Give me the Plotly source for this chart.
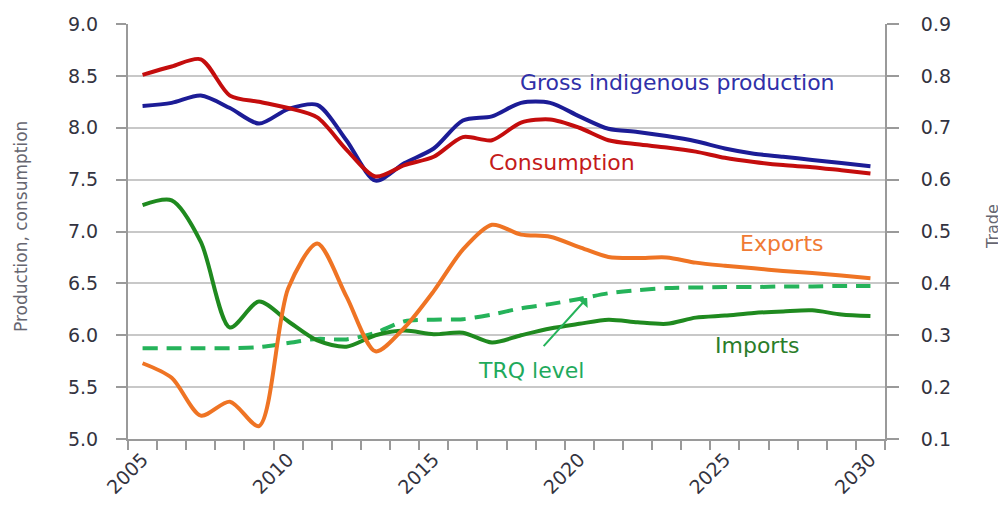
import plotly.graph_objects as go

years = list(range(2005, 2031))

production = [8.21, 8.24, 8.31, 8.19, 8.04, 8.18, 8.22, 7.88, 7.49, 7.66, 7.80, 8.07, 8.11,
              8.24, 8.24, 8.11, 7.99, 7.96, 7.92, 7.87, 7.80, 7.75, 7.72, 7.69, 7.66, 7.63]
consumption = [8.51, 8.59, 8.66, 8.31, 8.25, 8.19, 8.10, 7.79, 7.53, 7.64, 7.72, 7.91, 7.88,
               8.05, 8.08, 8.00, 7.88, 7.84, 7.81, 7.77, 7.71, 7.67, 7.64, 7.62, 7.59, 7.56]
exports = [0.246, 0.218, 0.145, 0.172, 0.125, 0.390, 0.477, 0.375, 0.269, 0.315, 0.385, 0.465, 0.513,
           0.494, 0.490, 0.470, 0.451, 0.449, 0.450, 0.440, 0.434, 0.429, 0.424, 0.420, 0.415, 0.410]
imports = [0.551, 0.560, 0.480, 0.315, 0.365, 0.327, 0.290, 0.278, 0.300, 0.309, 0.302, 0.305, 0.286,
           0.300, 0.313, 0.322, 0.330, 0.325, 0.322, 0.334, 0.338, 0.343, 0.346, 0.348, 0.340, 0.337]
trq = [0.275, 0.275, 0.275, 0.275, 0.277, 0.285, 0.293, 0.292, 0.305, 0.327, 0.330, 0.331, 0.340,
       0.352, 0.360, 0.370, 0.381, 0.387, 0.391, 0.392, 0.393, 0.393, 0.394, 0.394, 0.395, 0.395]

label_years = [2005, 2010, 2015, 2020, 2025, 2030]

C_BLUE = "#1c1c96"
C_RED = "#c40d0d"
C_ORANGE = "#ef7424"
C_GREEN = "#1f8a1f"
C_TRQ = "#25b35a"
GRID = "#c8c8c8"
AXIS = "#9a9a9a"
FONT = "DejaVu Sans"

fig = go.Figure()
fig.add_trace(go.Scatter(x=years, y=production, mode="lines", line=dict(color=C_BLUE, width=4, shape="spline", smoothing=0.8), yaxis="y"))
fig.add_trace(go.Scatter(x=years, y=consumption, mode="lines", line=dict(color=C_RED, width=4, shape="spline", smoothing=0.8), yaxis="y"))
fig.add_trace(go.Scatter(x=years, y=trq, mode="lines", line=dict(color=C_TRQ, width=4, shape="spline", smoothing=0.8, dash="15px,9px"), yaxis="y2"))
fig.add_trace(go.Scatter(x=years, y=imports, mode="lines", line=dict(color=C_GREEN, width=4, shape="spline", smoothing=0.8), yaxis="y2"))
fig.add_trace(go.Scatter(x=years, y=exports, mode="lines", line=dict(color=C_ORANGE, width=4, shape="spline", smoothing=0.8), yaxis="y2"))

tickfont = dict(family=FONT, size=19, color="#333340")

# page body has an 8px margin: plot area spans x 128..885, y 24..439 on the page
fig.update_layout(
    width=998, height=498,
    margin=dict(l=120, r=121, t=16, b=67),
    paper_bgcolor="white", plot_bgcolor="white",
    showlegend=False,
    xaxis=dict(range=[2004.5, 2030.5], tickmode="array", tickvals=label_years,
               ticktext=[str(y) for y in label_years], tickangle=-45, ticks="",
               tickfont=tickfont, showgrid=False, zeroline=False, automargin=False,
               showline=True, linecolor=AXIS, linewidth=2,
               minor=dict(tickmode="array", tickvals=[2004.5 + i for i in range(27)],
                          ticks="outside", ticklen=9, tickwidth=2, tickcolor=AXIS, showgrid=False)),
    yaxis=dict(range=[5, 9], dtick=0.5, tick0=5, tickformat=".1f", ticks="outside", ticklen=10,
               tickwidth=2, tickcolor=AXIS, tickfont=tickfont, showgrid=True, gridcolor=GRID,
               gridwidth=2, zeroline=False, showline=True, linecolor=AXIS, linewidth=2,
               ticklabelstandoff=14, automargin=False),
    yaxis2=dict(range=[0.1, 0.9], dtick=0.1, tick0=0.1, tickformat=".1f", overlaying="y", side="right",
                ticks="outside", ticklen=12, tickwidth=2, tickcolor=AXIS, tickfont=tickfont,
                showgrid=False, zeroline=False, showline=True, linecolor=AXIS, linewidth=2,
                ticklabelstandoff=18, automargin=False),
)

def px_x(p):
    return (p - 128) / 757.0

def px_y(p):
    return 1 - (p - 24) / 415.0

def label(text, x, y, color, size=22, angle=0):
    fig.add_annotation(x=px_x(x), y=px_y(y), xref="paper", yref="paper", text=text,
                       xanchor="center", yanchor="middle", textangle=angle, showarrow=False,
                       font=dict(family=FONT, size=size, color=color))

label("Production, consumption", 21, 227, "#666670", size=17, angle=-90)
label("Trade", 992, 227, "#666670", size=16, angle=-90)
label("Gross indigenous production", 677, 83, "#3030a8")
label("Consumption", 562, 162, "#c41a1a")
label("Exports", 781, 243, "#f07a34")
label("Imports", 757, 345, "#2a7d2a")
label("TRQ level", 531, 370, "#1faa5c")

fig.add_annotation(x=2020.27, y=0.372, xref="x", yref="y2", ax=2018.73, ay=0.276,
                   axref="x", ayref="y2", text="", showarrow=True, arrowhead=1,
                   arrowsize=1.2, arrowwidth=2, arrowcolor=C_TRQ)

fig.write_html("out.html")
